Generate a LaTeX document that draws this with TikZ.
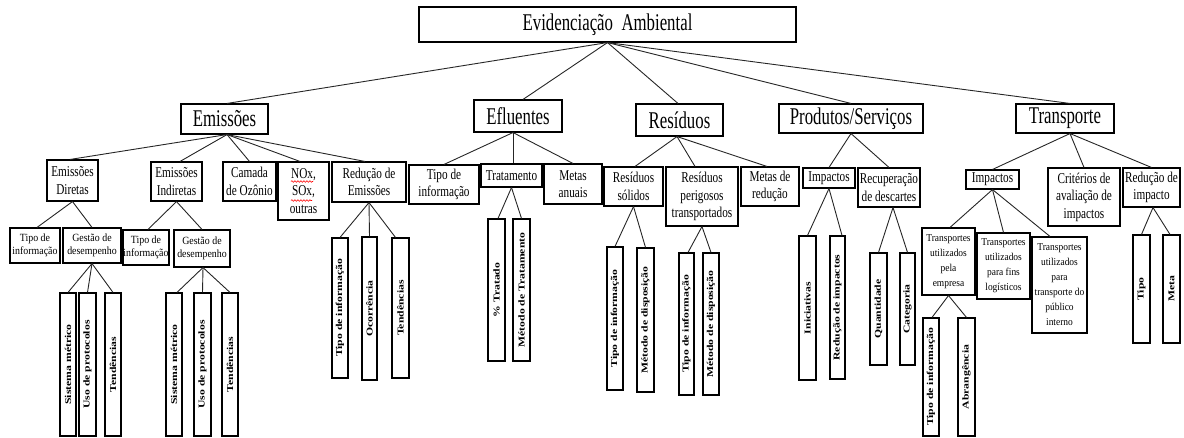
\documentclass[tikz,border=0pt]{standalone}
\usepackage{fontspec}
\setmainfont{Liberation Serif}
\newfontfamily\fA[FakeStretch=0.7]{Liberation Serif}
\newfontfamily\fB[FakeStretch=0.75]{Liberation Serif}
\newfontfamily\fC[FakeStretch=0.9]{Liberation Serif}
\newfontfamily\fD[FakeStretch=1.3]{Liberation Serif}
\usetikzlibrary{decorations.pathmorphing}
\tikzset{
  bx/.style={draw=black, line width=1.1pt, inner sep=0pt, align=center, fill=white},
  lzero/.style={bx, font=\fA\fontsize{24}{28}\selectfont},
  ltwo/.style={bx, font=\fB\fontsize{15}{17.5}\selectfont},
  lthree/.style={bx, font=\fC\fontsize{11}{13}\selectfont},
  ltr/.style={bx, font=\fC\fontsize{10.5}{15}\selectfont},
  barlbl/.style={inner sep=0pt, font=\fD\bfseries\fontsize{9}{10}\selectfont},
  conn/.style={draw=black!85, line width=0.9pt},
  squig/.style={draw=red, line width=0.6pt, decorate, decoration={snake, segment length=3pt, amplitude=0.8pt}},
}
\newcommand\bx[7]{\node[#1, minimum width={#5-#3}, minimum height={#6-#4}] (#2) at ({(#3+#5)/2},{(#4+#6)/2}) {#7};}
\newcommand\vb[6]{\node[bx, minimum width={#4-#2}, minimum height={#5-#3}] (#1) at ({(#2+#4)/2},{(#3+#5)/2}) {};
  \node[barlbl, rotate=90] (#1t) at (#1.center) {#6};}
\begin{document}
\begin{tikzpicture}[x=1pt,y=-1pt]
\useasboundingbox (0,0) rectangle (1184,437);
% root and level 1
\bx{lzero}{root}{419}{7}{796}{42}{Evidenciação~ Ambiental}
\bx{lzero}{emi}{181}{104}{268}{134}{Emissões}
\bx{lzero}{efl}{474}{100}{562}{132}{Efluentes}
\bx{lzero}{res}{636}{104}{723}{136}{Resíduos}
\bx{lzero}{pro}{779}{104}{923}{133}{Produtos/Serviços}
\bx{lzero}{tra}{1016}{104}{1114}{133}{Transporte}
% Emissoes
\bx{ltwo}{edir}{47}{160}{98}{201}{Emissões\\Diretas}
\bx{ltwo}{eind}{151}{162}{202}{201}{Emissões\\Indiretas}
\bx{ltwo}{ecam}{223}{162}{276}{201}{Camada\\de Ozônio}
\bx{ltwo}{enox}{278}{162}{329}{220}{NOx,\\SOx,\\outras}
\bx{ltwo}{ered}{332}{162}{406}{202}{Redução de\\Emissões}
\bx{lthree}{dtip}{10}{228}{60}{263}{Tipo de\\informação}
\bx{lthree}{dges}{63}{228}{121}{263}{Gestão de\\desempenho}
\bx{lthree}{itip}{123}{230}{169}{265}{Tipo de\\informação}
\bx{lthree}{iges}{174}{230}{230}{267}{Gestão de\\desempenho}
\vb{d1}{60}{293}{76}{436}{Sistema métrico}
\vb{d2}{79}{293}{96}{436}{Uso de protocolos}
\vb{d3}{105}{293}{121}{436}{Tendências}
\vb{i1}{166}{293}{182}{436}{Sistema métrico}
\vb{i2}{194}{293}{211}{436}{Uso de protocolos}
\vb{i3}{222}{293}{238}{436}{Tendências}
\vb{r1}{332}{238}{348}{378}{Tipo de informação}
\vb{r2}{362}{237}{377}{380}{Ocorrência}
\vb{r3}{392}{238}{409}{378}{Tendências}
\draw[squig] (291,181.5) -- (313,181.5);
\draw[squig] (291,200.5) -- (312,200.5);
% Efluentes
\bx{ltwo}{ftip}{409}{165}{479}{204}{Tipo de\\informação}
\bx{ltwo}{ftra}{481}{164}{542}{187}{Tratamento}
\bx{ltwo}{fmet}{544}{164}{602}{204}{Metas\\anuais}
\vb{t1}{488}{219}{505}{361}{\% Tratado}
\vb{t2}{513}{219}{530}{361}{Método de Tratamento}
% Residuos
\bx{ltwo}{rsol}{604}{167}{663}{206}{Resíduos\\sólidos}
\bx{ltwo}{rper}{666}{167}{738}{226}{Resíduos\\perigosos\\transportados}
\bx{ltwo}{rmet}{741}{167}{799}{206}{Metas de\\redução}
\vb{s1}{607}{247}{623}{390}{Tipo de informação}
\vb{s2}{637}{248}{654}{392}{Método de disposição}
\vb{p1}{679}{253}{694}{395}{Tipo de informação}
\vb{p2}{703}{253}{719}{395}{Método de disposição}
% Produtos
\bx{ltwo}{pimp}{803}{168}{855}{188}{Impactos}
\bx{ltwo}{prec}{858}{168}{920}{207}{Recuperação\\de descartes}
\vb{q1}{799}{236}{816}{380}{Iniciativas}
\vb{q2}{830}{236}{845}{379}{Redução de impactos}
\vb{c1}{870}{253}{887}{365}{Quantidade}
\vb{c2}{900}{253}{915}{365}{Categoria}
% Transporte
\bx{ltwo}{timp}{966}{170}{1019}{189}{Impactos}
\bx{ltwo}{tcri}{1048}{168}{1120}{226}{Critérios de\\avaliação de\\impactos}
\bx{ltwo}{tred}{1123}{168}{1180}{207}{Redução de\\impacto}
\bx{ltr}{temp}{922}{228}{975}{295}{Transportes\\utilizados\\pela\\empresa}
\bx{ltr}{tlog}{977}{233}{1030}{299}{Transportes\\utilizados\\para fins\\logísticos}
\bx{ltr}{tpub}{1032}{237}{1087}{333}{Transportes\\utilizados\\para\\transporte do\\público\\interno}
\vb{e1}{923}{318}{939}{436}{Tipo de informação}
\vb{e2}{958}{318}{975}{436}{Abrangência}
\vb{m1}{1133}{235}{1150}{343}{Tipo}
\vb{m2}{1163}{235}{1180}{343}{Meta}
% connectors
\draw[conn] (root.south) -- ([xshift=2.5pt]emi.north);
\draw[conn] (root.south) -- ([xshift=5pt]efl.north);
\draw[conn] (root.south) -- ([xshift=-1.5pt]res.north);
\draw[conn] (root.south) -- (pro.north);
\draw[conn] (root.south) -- ([xshift=5pt]tra.north);
\draw[conn] ([xshift=2.5pt]emi.south) -- ([xshift=-2.5pt]edir.north);
\draw[conn] ([xshift=2.5pt]emi.south) -- ([xshift=3.5pt]eind.north);
\draw[conn] ([xshift=2.5pt]emi.south) -- (ecam.north);
\draw[conn] ([xshift=2.5pt]emi.south) -- ([xshift=-3.5pt]enox.north);
\draw[conn] ([xshift=2.5pt]emi.south) -- ([xshift=-4pt]ered.north);
\draw[conn] (edir.south) -- ([xshift=2pt]dtip.north);
\draw[conn] (edir.south) -- (dges.north);
\draw[conn] (eind.south) -- ([xshift=2pt]itip.north);
\draw[conn] (eind.south) -- (iges.north);
\draw[conn] (dges.south) -- (d1.north);
\draw[conn] (dges.south) -- (d2.north);
\draw[conn] (dges.south) -- (d3.north);
\draw[conn] ([xshift=1pt]iges.south) -- ([xshift=3pt]i1.north);
\draw[conn] ([xshift=1pt]iges.south) -- (i2.north);
\draw[conn] ([xshift=1pt]iges.south) -- (i3.north);
\draw[conn] (ered.south) -- (r1.north);
\draw[conn] (ered.south) -- (r2.north);
\draw[conn] (ered.south) -- ([xshift=-5pt]r3.north);
\draw[conn] ([xshift=-5pt]efl.south) -- (ftip.north);
\draw[conn] ([xshift=-5pt]efl.south) -- ([xshift=1.5pt]ftra.north);
\draw[conn] ([xshift=-5pt]efl.south) -- (fmet.north);
\draw[conn] (ftra.south) -- ([xshift=1.5pt]t1.north);
\draw[conn] (ftra.south) -- (t2.north);
\draw[conn] ([xshift=-2.5pt]res.south) -- ([xshift=1.5pt]rsol.north);
\draw[conn] ([xshift=-2.5pt]res.south) -- ([xshift=-7pt]rper.north);
\draw[conn] ([xshift=-2.5pt]res.south) -- ([xshift=-3pt]rmet.north);
\draw[conn] (rsol.south) -- (s1.north);
\draw[conn] (rsol.south) -- (s2.north);
\draw[conn] (rper.south) -- ([xshift=1.5pt]p1.north);
\draw[conn] (rper.south) -- (p2.north);
\draw[conn] (pro.south) -- (pimp.north);
\draw[conn] (pro.south) -- (prec.north);
\draw[conn] (pimp.south) -- (q1.north);
\draw[conn] (pimp.south) -- ([xshift=4.5pt]q2.north);
\draw[conn] ([xshift=4pt]prec.south) -- (c1.north);
\draw[conn] ([xshift=4pt]prec.south) -- (c2.north);
\draw[conn] ([xshift=5pt]tra.south) -- (timp.north);
\draw[conn] ([xshift=5pt]tra.south) -- (tcri.north);
\draw[conn] ([xshift=5pt]tra.south) -- (tred.north);
\draw[conn] (timp.south) -- ([xshift=1.5pt]temp.north);
\draw[conn] (timp.south) -- (tlog.north);
\draw[conn] (timp.south) -- ([xshift=-9.5pt]tpub.north);
\draw[conn] (temp.south) -- ([xshift=1pt]e1.north);
\draw[conn] (temp.south) -- (e2.north);
\draw[conn] ([xshift=1.5pt]tred.south) -- (m1.north);
\draw[conn] ([xshift=1.5pt]tred.south) -- ([xshift=-1.5pt]m2.north);
\end{tikzpicture}
\end{document}
